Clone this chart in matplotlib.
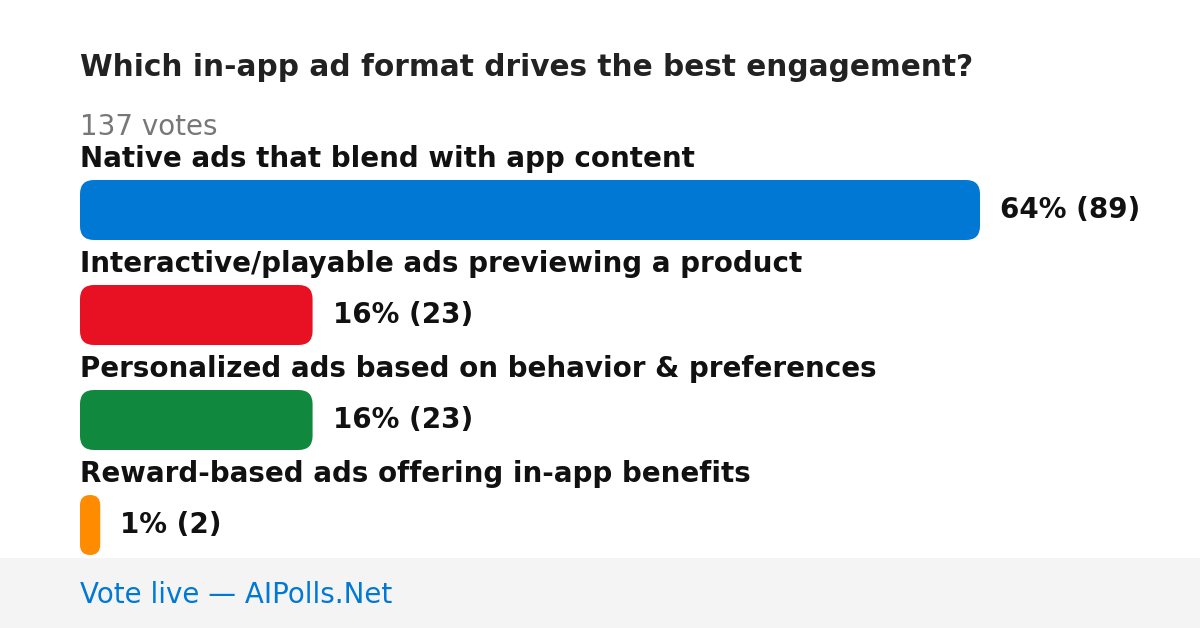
import matplotlib
matplotlib.use("Agg")
import matplotlib.pyplot as plt
from matplotlib.patches import FancyBboxPatch, Rectangle

plt.rcParams["font.family"] = ["DejaVu Sans"]

title = "Which in-app ad format drives the best engagement?"
total_votes = 137
options = [
    "Native ads that blend with app content",
    "Interactive/playable ads previewing a product",
    "Personalized ads based on behavior & preferences",
    "Reward-based ads offering in-app benefits",
]
votes = [89, 23, 23, 2]
colors = ["#0078d4", "#e81123", "#10893e", "#ff8c00"]
footer = "Vote live \u2014 AIPolls.Net"

W, H = 1200, 628
fig = plt.figure(figsize=(W / 100, H / 100), dpi=100)
ax = fig.add_axes([0, 0, 1, 1])
ax.set_xlim(0, W)
ax.set_ylim(H, 0)
ax.axis("off")

ax.text(80, 68, title, fontsize=21.3, fontweight="bold", color="#222222", va="center")
ax.text(80, 127, f"{total_votes} votes", fontsize=20, color="#777777", va="center")

left, full = 80, 900
top0, step, bh = 180, 105, 60
vmax = max(votes)
for i, (lab, v, c) in enumerate(zip(options, votes, colors)):
    y = top0 + i * step
    w = full * v / vmax
    r = min(14, w / 2)
    ax.add_patch(FancyBboxPatch((left, y), w, bh,
                                boxstyle=f"round,pad=0,rounding_size={r}",
                                fc=c, ec="none"))
    ax.text(left, y - 21, lab, fontsize=20, fontweight="bold", color="#111111", va="center")
    pct = int(100 * v / total_votes)
    ax.text(left + w + 20, y + bh / 2, f"{pct}% ({v})", fontsize=20,
            fontweight="bold", color="#111111", va="center")

ax.add_patch(Rectangle((0, 558), W, H - 558, fc="#f4f4f4", ec="none"))
ax.text(80, 595, footer, fontsize=20, color="#0078d4", va="center")

fig.savefig("out.png", dpi=100)
